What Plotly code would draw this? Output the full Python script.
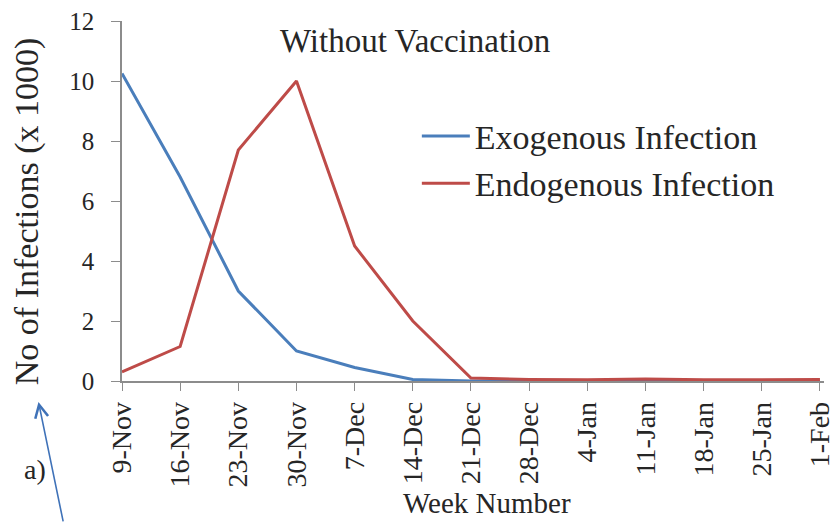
import plotly.graph_objects as go

weeks = ["9-Nov", "16-Nov", "23-Nov", "30-Nov", "7-Dec", "14-Dec", "21-Dec",
         "28-Dec", "4-Jan", "11-Jan", "18-Jan", "25-Jan", "1-Feb"]
exogenous = [10.25, 6.8, 3.0, 1.0, 0.45, 0.05, 0.0, 0.0, 0.0, 0.0, 0.0, 0.0, 0.0]
endogenous = [0.3, 1.15, 7.7, 10.0, 4.5, 2.0, 0.1, 0.05, 0.04, 0.07, 0.04, 0.04, 0.05]

y_ticks = [0, 2, 4, 6, 8, 10, 12]

serif = "Liberation Serif, Times New Roman, serif"
text_color = "#262626"
axis_color = "#8c8c8c"

fig = go.Figure()
fig.add_trace(go.Scatter(x=list(range(len(weeks))), y=exogenous, mode="lines",
                         name="Exogenous Infection",
                         line=dict(color="#4a7ebb", width=3)))
fig.add_trace(go.Scatter(x=list(range(len(weeks))), y=endogenous, mode="lines",
                         name="Endogenous Infection",
                         line=dict(color="#be4b48", width=3)))

fig.update_layout(
    width=836, height=523,
    margin=dict(l=122, r=12, t=21, b=142),
    paper_bgcolor="white", plot_bgcolor="white",
    font=dict(family=serif, color=text_color),
    showlegend=True,
    legend=dict(x=0.42, y=0.76, xanchor="left", yanchor="top",
                font=dict(size=34, family=serif, color=text_color),
                bgcolor="rgba(0,0,0,0)", itemwidth=48, tracegroupgap=0),
    xaxis=dict(range=[0, 12.07], tickmode="array",
               tickvals=list(range(len(weeks))), ticktext=weeks,
               tickangle=-90, ticks="outside", ticklen=8, tickcolor=axis_color,
               showline=True, linecolor=axis_color, linewidth=1.5,
               showgrid=False, zeroline=False, automargin=False,
               tickfont=dict(size=28, family=serif, color=text_color)),
    yaxis=dict(range=[0, 12], tickmode="array", tickvals=y_ticks,
               ticks="outside", ticklen=9, tickcolor=axis_color,
               ticklabelstandoff=12,
               showline=True, linecolor=axis_color, linewidth=1.5,
               showgrid=False, zeroline=False, automargin=False,
               tickfont=dict(size=25, family=serif, color=text_color)),
    annotations=[
        dict(text="Without Vaccination", xref="paper", yref="paper",
             x=0.418, y=0.945, xanchor="center", yanchor="middle",
             showarrow=False, font=dict(size=33, family=serif, color=text_color)),
        dict(text="No of Infections (x 1000)", xref="paper", yref="paper",
             x=-0.1353, y=0.469, xanchor="center", yanchor="middle",
             textangle=-90, showarrow=False,
             font=dict(size=34, family=serif, color=text_color)),
        dict(text="Week Number", xref="paper", yref="paper",
             x=0.52, y=-0.339, xanchor="center", yanchor="middle",
             showarrow=False, font=dict(size=29, family=serif, color=text_color)),
        dict(text="a)", xref="paper", yref="paper",
             x=-0.124, y=-0.247, xanchor="center", yanchor="middle",
             showarrow=False, font=dict(size=28, family=serif, color=text_color)),
        dict(text="", xref="paper", yref="paper",
             x=-0.119, y=-0.058, axref="pixel", ayref="pixel", ax=25, ay=121,
             showarrow=True, arrowhead=5, arrowsize=1.6, arrowwidth=1.6,
             arrowcolor="#3f72b8"),
    ],
)

fig.write_html("out.html")
